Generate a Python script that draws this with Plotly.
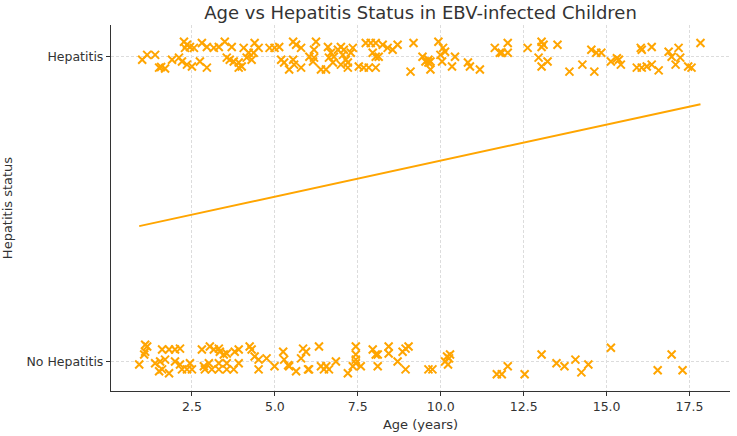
import plotly.graph_objects as go

# Hepatitis group (status = 1, jittered)
hep_age = [1.00,1.15,1.39,1.51,1.57,1.69,1.90,2.11,2.26,2.35,2.29,2.44,2.56,2.20,2.35,2.50,2.74,2.95,2.80,2.95,
           3.16,3.31,3.49,3.70,3.55,3.64,3.76,3.91,4.00,3.91,4.06,4.21,4.39,4.51,4.36,4.15,4.30,4.84,4.99,5.13,
           5.55,5.64,5.79,5.19,5.28,5.55,5.58,5.43,5.79,
           6.24,6.18,6.04,6.18,6.15,6.39,6.54,6.60,6.69,6.63,6.78,6.75,6.90,6.99,7.08,7.05,7.14,7.20,6.99,7.20,
           7.35,7.29,7.53,7.68,7.83,8.04,7.74,7.89,8.04,8.25,8.40,8.55,8.70,7.95,8.04,8.13,9.18,9.09,9.45,9.54,
           9.63,9.69,9.63,9.69,9.93,10.07,10.13,9.99,10.04,10.43,10.34,10.82,10.88,11.18,11.63,11.78,
           12.02,12.02,11.84,12.62,13.04,13.04,13.10,12.95,13.22,13.04,13.52,13.88,14.54,14.69,14.84,14.27,14.63,
           15.13,15.37,15.43,15.31,16.03,16.06,16.36,15.91,16.06,16.21,16.36,16.57,16.87,16.96,17.17,17.22,17.08,
           17.46,17.56,17.83]
hep_status = [0.990,1.006,1.006,0.964,0.966,0.961,0.990,0.997,1.049,1.039,1.029,1.032,1.029,0.984,0.974,0.968,0.984,0.964,1.045,1.032,
              1.029,1.032,1.049,1.032,0.997,0.990,0.984,0.981,0.968,0.964,1.029,1.013,1.045,1.029,1.013,0.997,0.990,1.029,1.029,1.032,
              1.049,1.039,1.029,0.990,0.981,0.990,0.974,0.958,0.964,
              1.049,1.023,1.000,0.997,0.984,0.958,0.958,1.032,1.013,0.997,1.000,0.981,1.023,1.032,1.023,1.006,0.990,0.981,0.974,0.964,
              1.029,1.013,0.968,0.964,0.964,0.964,1.045,1.045,1.045,1.039,1.029,1.023,1.039,1.013,1.000,1.000,1.045,0.951,1.000,0.984,
              0.990,0.984,0.981,0.958,1.049,1.029,1.016,1.006,0.984,1.000,0.968,0.981,0.968,0.958,1.029,1.013,
              1.045,1.013,1.013,1.029,1.049,1.032,1.039,0.997,0.984,0.968,1.039,0.951,1.023,1.013,1.013,0.974,0.951,
              0.984,0.990,0.974,0.995,1.029,1.023,1.032,0.964,0.964,0.968,0.974,0.955,1.016,1.000,1.029,0.997,0.974,
              0.968,0.964,1.045]

# No-hepatitis group (status = 0, jittered)
noh_age = [0.91,1.06,1.09,1.15,1.09,1.39,1.54,1.69,1.60,1.81,1.51,1.60,1.81,1.99,2.14,1.99,2.14,2.20,2.35,2.50,
           2.44,2.80,3.04,3.16,3.31,3.34,3.46,3.55,2.86,3.01,2.89,3.10,3.31,3.31,3.55,3.76,3.91,3.55,3.79,3.91,
           4.24,4.30,4.39,4.51,4.75,4.51,4.99,5.25,5.28,5.43,5.64,5.40,5.85,5.94,5.79,6.00,
           6.33,6.03,6.39,6.48,6.63,6.55,6.84,7.20,7.35,7.44,7.59,7.44,7.44,7.44,7.95,8.04,8.10,8.10,8.43,8.43,
           8.70,8.85,8.94,9.03,8.94,9.63,9.75,10.13,10.19,10.28,10.22,10.25,11.69,11.84,
           12.02,12.53,13.04,13.49,13.73,14.06,14.24,14.45,15.13,16.54,16.96,17.29]
noh_status = [-0.010,0.023,0.032,0.049,0.055,-0.006,0.000,0.006,-0.026,-0.039,-0.032,0.039,0.039,0.039,0.042,0.000,-0.010,-0.026,-0.026,-0.026,
              -0.006,0.039,0.049,0.039,0.042,0.032,0.023,0.026,-0.016,-0.006,-0.026,-0.026,-0.006,-0.026,-0.026,-0.026,-0.006,-0.006,0.032,0.039,
              0.049,0.039,0.016,0.006,0.010,-0.026,-0.016,0.032,0.006,-0.016,-0.032,-0.012,0.042,0.032,0.010,-0.026,
              0.049,-0.026,-0.016,-0.026,-0.026,-0.016,0.000,-0.039,-0.016,-0.006,-0.016,0.049,0.023,0.006,0.039,0.023,0.023,-0.016,0.049,0.026,
              0.000,0.032,0.042,0.049,-0.026,-0.026,-0.026,0.000,0.016,0.023,-0.010,0.010,-0.042,-0.042,
              -0.016,-0.042,0.023,-0.006,-0.016,0.006,-0.036,-0.010,0.045,-0.029,0.023,-0.029]

# Fitted trend line
trend_age = [0.91, 17.83]
trend_prob = [0.444, 0.844]

x_ticks = [2.5, 5.0, 7.5, 10.0, 12.5, 15.0, 17.5]
y_ticks = [0, 1]
y_labels = ["No Hepatitis", "Hepatitis"]

orange = "#FFA500"
fig = go.Figure()
fig.add_trace(go.Scatter(x=hep_age + noh_age, y=hep_status + noh_status, mode="markers",
                         marker=dict(symbol="x-thin-open", size=8, color=orange,
                                     line=dict(color=orange, width=2)),
                         showlegend=False, hoverinfo="skip"))
fig.add_trace(go.Scatter(x=trend_age, y=trend_prob, mode="lines",
                         line=dict(color=orange, width=2), showlegend=False))

font_family = "DejaVu Sans"
fig.update_layout(
    width=737, height=436,
    margin=dict(l=109, r=7, t=25, b=41),
    paper_bgcolor="white", plot_bgcolor="white",
    font=dict(family=font_family, size=12.5, color="#333333"),
    title=dict(text="Age vs Hepatitis Status in EBV-infected Children", x=0.5, xanchor="center",
               xref="paper", y=0.97, yanchor="middle", yref="container",
               font=dict(size=18, color="#333333")),
)
grid_style = dict(showgrid=True, gridcolor="#dcdcdc", griddash="3px,2px", gridwidth=1,
                  showline=True, linecolor="#333333", linewidth=1.2, ticks="outside", ticklen=4,
                  tickcolor="#333333", zeroline=False, mirror=False)
fig.update_xaxes(range=[0.06, 18.72], tickvals=x_ticks, ticktext=[f"{v:.1f}" for v in x_ticks],
                 title=dict(text="Age (years)", font=dict(size=13), standoff=6), **grid_style)
fig.update_yaxes(range=[-0.097, 1.104], tickvals=y_ticks, ticktext=y_labels,
                 title=dict(text="Hepatitis status", font=dict(size=13), standoff=10), **grid_style)

fig.write_html("out.html")
